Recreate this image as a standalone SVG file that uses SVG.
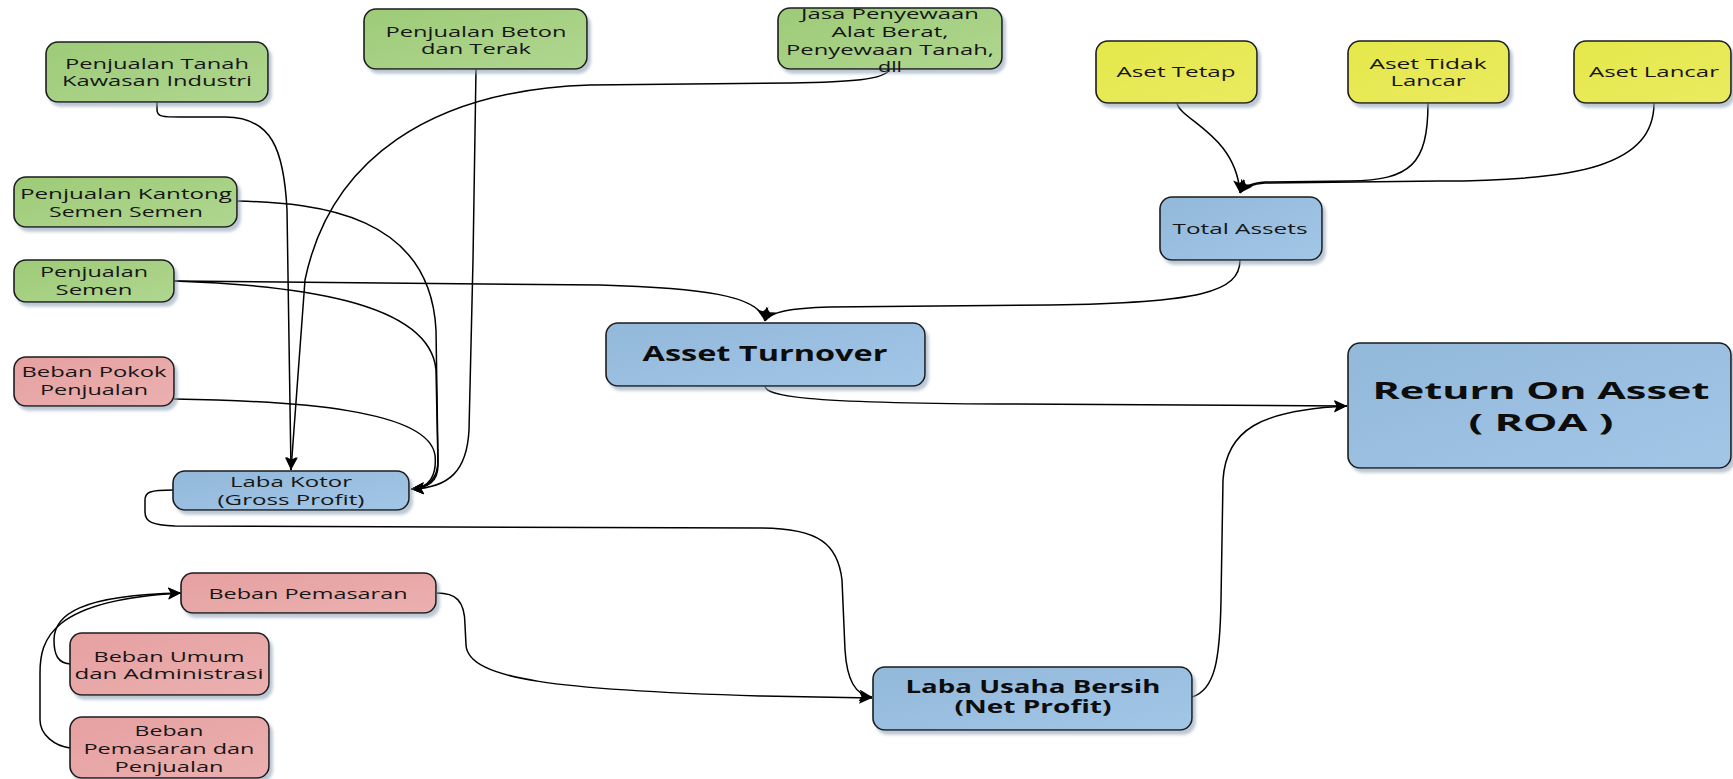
<svg xmlns="http://www.w3.org/2000/svg" width="1733" height="779" viewBox="0 0 1733 779">
  <style>
    .box { stroke: #1c1c1c; stroke-width: 1.6; filter: url(#shadow); }
    .green { fill: url(#gGreen); }
    .blue { fill: url(#gBlue); }
    .yellow { fill: url(#gYellow); }
    .pink { fill: url(#gPink); }
    .t { font-family: "Open Sans", "DejaVu Sans", sans-serif; font-size: 15px; fill: #161616; text-anchor: middle; }
    .tb { font-family: "Open Sans", "DejaVu Sans", sans-serif; font-weight: bold; fill: #0d0d0d; text-anchor: middle; }
    .edge { fill: none; stroke: #000; stroke-width: 1.5; }
    .arr { marker-end: url(#arrow); }
  </style>
  <defs>
    <filter id="shadow" x="-10%" y="-10%" width="125%" height="135%">
      <feDropShadow dx="3" dy="4" stdDeviation="1.6" flood-color="#8fa2b5" flood-opacity="0.6"/>
    </filter>
    <linearGradient id="gGreen" x1="0" y1="0" x2="1" y2="1">
      <stop offset="0" stop-color="#9dcb77"/>
      <stop offset="1" stop-color="#b0d690"/>
    </linearGradient>
    <linearGradient id="gBlue" x1="0" y1="0" x2="1" y2="1">
      <stop offset="0" stop-color="#92b8da"/>
      <stop offset="1" stop-color="#a2c6e6"/>
    </linearGradient>
    <linearGradient id="gYellow" x1="0" y1="0" x2="1" y2="1">
      <stop offset="0" stop-color="#e5e84a"/>
      <stop offset="1" stop-color="#eaea60"/>
    </linearGradient>
    <linearGradient id="gPink" x1="0" y1="0" x2="1" y2="1">
      <stop offset="0" stop-color="#e6a0a0"/>
      <stop offset="1" stop-color="#ebb0b0"/>
    </linearGradient>
    <marker id="arrow" markerUnits="userSpaceOnUse" markerWidth="14" markerHeight="12" refX="13" refY="6" orient="auto">
      <path d="M0,0 L13,6 L0,12 L3,6 Z" fill="#000"/>
    </marker>
  </defs>

  <!-- connectors -->
  <g id="connectors">
    <path class="edge arr" d="M157,102 L157,110 C157,117 164,117 180,117 L225,117 C272,117 284,150 287,210 L291,470"/>
    <path class="edge arr" d="M890,69 C885,80 850,82 790,83 L590,85 C430,90 330,160 305,280 L291,470"/>
    <path class="edge arr" d="M476,69 L473,260 L469,430 C467,470 450,488 411,489"/>
    <path class="edge arr" d="M237,201 C320,203 430,215 436,330 L438,460 C438,480 428,488 411,489"/>
    <path class="edge arr" d="M174,281 C290,285 430,300 436,370 L438,465 C438,482 428,488 411,489"/>
    <path class="edge arr" d="M174,399 C300,401 428,410 435,455 C437,475 430,488 411,489"/>
    <path class="edge arr" d="M174,281 L600,285 C700,288 760,295 765,321"/>
    <path class="edge arr" d="M1240,260 C1240,292 1200,303 1050,305 L830,307 C790,308 770,312 765,321"/>
    <path class="edge arr" d="M1177,103 C1180,120 1236,135 1240,193"/>
    <path class="edge arr" d="M1428,103 C1428,165 1410,180 1350,181 L1265,182 C1252,183 1244,186 1240,193"/>
    <path class="edge arr" d="M1654,103 C1654,165 1580,181 1440,181 L1265,183 C1252,184 1244,188 1240,193"/>
    <path class="edge arr" d="M765,386 C766,396 800,403 1000,404 L1347,406"/>
    <path class="edge arr" d="M1192,697 C1215,690 1220,660 1221,600 L1223,480 C1226,430 1260,410 1347,406"/>
    <path class="edge arr" d="M173,490 C150,490 145,492 145,500 L145,512 C145,522 152,525 175,526 L760,528 C820,528 838,545 842,580 L845,650 C847,680 855,695 872,697"/>
    <path class="edge arr" d="M437,593 C455,593 465,600 465,625 L466,645 C468,680 560,690 760,696 L872,698"/>
    <path class="edge arr" d="M70,664 C58,663 54,655 54,640 C54,615 80,595 181,593"/>
    <path class="edge arr" d="M70,748 C55,746 40,735 40,720 L40,673 C40,640 50,600 181,593"/>
  </g>

  <!-- revenue sources -->
  <g id="penjualan-tanah">
    <rect class="box green" x="46" y="42" width="222" height="60" rx="12"/>
    <text class="t" x="157" y="68.5" textLength="184" lengthAdjust="spacingAndGlyphs">Penjualan Tanah</text>
    <text class="t" x="157" y="85.5" textLength="190" lengthAdjust="spacingAndGlyphs">Kawasan Industri</text>
  </g>
  <g id="penjualan-beton">
    <rect class="box green" x="364" y="9" width="223" height="60" rx="12"/>
    <text class="t" x="476" y="36.5" textLength="181" lengthAdjust="spacingAndGlyphs">Penjualan Beton</text>
    <text class="t" x="476" y="53.5" textLength="110" lengthAdjust="spacingAndGlyphs">dan Terak</text>
  </g>
  <g id="jasa-penyewaan">
    <rect class="box green" x="778" y="8" width="224" height="61" rx="12"/>
    <text class="t" x="890" y="18.5" textLength="178" lengthAdjust="spacingAndGlyphs">Jasa Penyewaan</text>
    <text class="t" x="890" y="36.5" textLength="117" lengthAdjust="spacingAndGlyphs">Alat Berat,</text>
    <text class="t" x="890" y="54.5" textLength="208" lengthAdjust="spacingAndGlyphs">Penyewaan Tanah,</text>
    <text class="t" x="890" y="71.5" textLength="24" lengthAdjust="spacingAndGlyphs">dll</text>
  </g>
  <g id="penjualan-kantong">
    <rect class="box green" x="14" y="177" width="223" height="50" rx="12"/>
    <text class="t" x="126" y="198.5" textLength="212" lengthAdjust="spacingAndGlyphs">Penjualan Kantong</text>
    <text class="t" x="126" y="216.5" textLength="154" lengthAdjust="spacingAndGlyphs">Semen Semen</text>
  </g>
  <g id="penjualan-semen">
    <rect class="box green" x="14" y="260" width="160" height="42" rx="12"/>
    <text class="t" x="94" y="276.5" textLength="108" lengthAdjust="spacingAndGlyphs">Penjualan</text>
    <text class="t" x="94" y="294.5" textLength="77" lengthAdjust="spacingAndGlyphs">Semen</text>
  </g>

  <!-- costs -->
  <g id="beban-pokok">
    <rect class="box pink" x="14" y="357" width="160" height="49" rx="12"/>
    <text class="t" x="94" y="376.5" textLength="145" lengthAdjust="spacingAndGlyphs">Beban Pokok</text>
    <text class="t" x="94" y="394.5" textLength="108" lengthAdjust="spacingAndGlyphs">Penjualan</text>
  </g>
  <g id="beban-pemasaran">
    <rect class="box pink" x="181" y="573" width="255" height="40" rx="12"/>
    <text class="t" x="308" y="598.5" textLength="199" lengthAdjust="spacingAndGlyphs">Beban Pemasaran</text>
  </g>
  <g id="beban-umum">
    <rect class="box pink" x="70" y="633" width="199" height="62" rx="12"/>
    <text class="t" x="169" y="661.5" textLength="151" lengthAdjust="spacingAndGlyphs">Beban Umum</text>
    <text class="t" x="169" y="678.5" textLength="189" lengthAdjust="spacingAndGlyphs">dan Administrasi</text>
  </g>
  <g id="beban-pemasaran-penjualan">
    <rect class="box pink" x="70" y="717" width="199" height="61" rx="12"/>
    <text class="t" x="169" y="735.5" textLength="69" lengthAdjust="spacingAndGlyphs">Beban</text>
    <text class="t" x="169" y="753.5" textLength="171" lengthAdjust="spacingAndGlyphs">Pemasaran dan</text>
    <text class="t" x="169" y="771.5" textLength="109" lengthAdjust="spacingAndGlyphs">Penjualan</text>
  </g>

  <!-- profit and ratios -->
  <g id="laba-kotor">
    <rect class="box blue" x="173" y="471" width="236" height="39" rx="12"/>
    <text class="t" x="291" y="486.5" textLength="122" lengthAdjust="spacingAndGlyphs">Laba Kotor</text>
    <text class="t" x="291" y="504.5" textLength="147" lengthAdjust="spacingAndGlyphs">(Gross Profit)</text>
  </g>
  <g id="asset-turnover">
    <rect class="box blue" x="606" y="323" width="319" height="63" rx="12"/>
    <text class="tb" x="765" y="360.5" font-size="21" textLength="245" lengthAdjust="spacingAndGlyphs">Asset Turnover</text>
  </g>
  <g id="laba-usaha-bersih">
    <rect class="box blue" x="873" y="667" width="319" height="63" rx="12"/>
    <text class="tb" x="1033" y="693" font-size="17" textLength="255" lengthAdjust="spacingAndGlyphs">Laba Usaha Bersih</text>
    <text class="tb" x="1033" y="713" font-size="17" textLength="157" lengthAdjust="spacingAndGlyphs">(Net Profit)</text>
  </g>
  <g id="total-assets">
    <rect class="box blue" x="1160" y="197" width="162" height="63" rx="12"/>
    <text class="t" x="1240" y="233.5" textLength="135" lengthAdjust="spacingAndGlyphs">Total Assets</text>
  </g>
  <g id="return-on-asset">
    <rect class="box blue" x="1348" y="343" width="383" height="125" rx="12"/>
    <text class="tb" x="1541" y="399" font-size="23" textLength="337" lengthAdjust="spacingAndGlyphs">Return On Asset</text>
    <text class="tb" x="1541" y="431" font-size="23" textLength="145" lengthAdjust="spacingAndGlyphs">( ROA )</text>
  </g>

  <!-- asset components -->
  <g id="aset-tetap">
    <rect class="box yellow" x="1096" y="41" width="161" height="62" rx="12"/>
    <text class="t" x="1176" y="76.5" textLength="119" lengthAdjust="spacingAndGlyphs">Aset Tetap</text>
  </g>
  <g id="aset-tidak-lancar">
    <rect class="box yellow" x="1348" y="41" width="161" height="62" rx="12"/>
    <text class="t" x="1428" y="68.5" textLength="117" lengthAdjust="spacingAndGlyphs">Aset Tidak</text>
    <text class="t" x="1428" y="85.5" textLength="75" lengthAdjust="spacingAndGlyphs">Lancar</text>
  </g>
  <g id="aset-lancar">
    <rect class="box yellow" x="1574" y="41" width="157" height="62" rx="12"/>
    <text class="t" x="1654" y="76.5" textLength="130" lengthAdjust="spacingAndGlyphs">Aset Lancar</text>
  </g>
</svg>
